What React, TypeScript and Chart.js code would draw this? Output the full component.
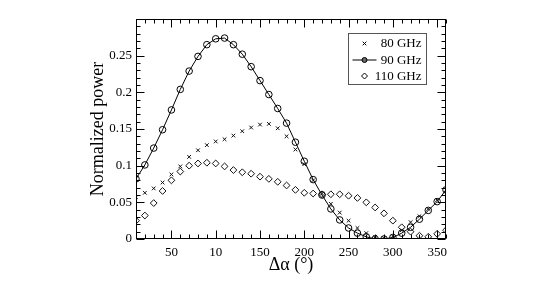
import React, { useEffect, useRef } from 'react';
import { Chart, registerables } from 'chart.js';

Chart.register(...registerables);

const angles = [10, 20, 30, 40, 50, 60, 70, 80, 90, 100, 110, 120, 130, 140, 150, 160, 170, 180,
  190, 200, 210, 220, 230, 240, 250, 260, 270, 280, 290, 300, 310, 320, 330, 340, 350, 360];

const power80 = [0.057, 0.063, 0.069, 0.077, 0.088, 0.099, 0.112, 0.121, 0.128, 0.133, 0.136, 0.141,
  0.147, 0.152, 0.156, 0.157, 0.151, 0.140, 0.122, 0.102, 0.080, 0.062, 0.048, 0.036, 0.025, 0.015,
  0.008, 0.003, 0.001, 0.004, 0.012, 0.023, 0.031, 0.041, 0.053, 0.067];

const power90 = [0.082, 0.101, 0.124, 0.149, 0.176, 0.204, 0.229, 0.249, 0.265, 0.273, 0.274, 0.265,
  0.252, 0.235, 0.216, 0.197, 0.178, 0.158, 0.132, 0.106, 0.081, 0.060, 0.041, 0.026, 0.015, 0.008,
  0.003, 0.000, 0.000, 0.002, 0.008, 0.016, 0.027, 0.039, 0.051, 0.067];

const power110 = [0.025, 0.032, 0.049, 0.0655, 0.080, 0.092, 0.100, 0.103, 0.104, 0.103, 0.099, 0.094,
  0.091, 0.089, 0.085, 0.082, 0.078, 0.073, 0.067, 0.063, 0.062, 0.061, 0.061, 0.061, 0.059, 0.056,
  0.050, 0.043, 0.035, 0.025, 0.016, 0.010, 0.0045, 0.003, 0.007, 0.012];

const seriesLabels = ['80 GHz', '90 GHz', '110 GHz'];

const xTickValues = [50, 100, 150, 200, 250, 300, 350];
const xTickLabels = ['50', '10', '150', '200', '250', '300', '350'];
const yTickValues = [0, 0.05, 0.1, 0.15, 0.2, 0.25];
const yTickLabels = ['0', '0.05', '0.1', '0.15', '0.2', '0.25'];

const X_MIN = 10;
const X_MAX = 360;
const Y_MIN = 0;
const Y_MAX = 0.3;
const X_MINOR = 10;
const X_MAJOR = 50;
const Y_MINOR_COUNT = 30; // 0.01 steps
const Y_MAJOR_EVERY = 5;

const xTitle = 'Δα (°)';
const yTitle = 'Normalized power';

const FONT = "'Liberation Serif', 'Times New Roman', serif";

const framePlugin = {
  id: 'graceFrame',
  afterDraw(chart: any) {
    const { ctx, chartArea, scales } = chart;
    const xs = scales.x;
    const ys = scales.y;
    const L = Math.round(chartArea.left) + 0.5;
    const R = Math.round(chartArea.right) - 0.5;
    const T = Math.round(chartArea.top) + 0.5;
    const B = Math.round(chartArea.bottom) - 0.5;
    ctx.save();
    ctx.strokeStyle = '#000';
    ctx.lineWidth = 1;
    ctx.strokeRect(L, T, R - L, B - T);
    ctx.beginPath();
    for (let v = X_MIN; v <= X_MAX + 1e-9; v += X_MINOR) {
      const px = Math.round(xs.getPixelForValue(v)) + 0.5;
      const major = Math.abs(v % X_MAJOR) < 1e-6;
      const len = major ? 8 : 4;
      ctx.moveTo(px, B);
      ctx.lineTo(px, B - len);
      ctx.moveTo(px, T);
      ctx.lineTo(px, T + len);
    }
    for (let i = 0; i <= Y_MINOR_COUNT; i++) {
      const v = Y_MIN + (Y_MAX - Y_MIN) * i / Y_MINOR_COUNT;
      const py = Math.round(ys.getPixelForValue(v)) + 0.5;
      const major = i % Y_MAJOR_EVERY === 0;
      const len = major ? 8 : 4;
      ctx.moveTo(L, py);
      ctx.lineTo(L + len, py);
      ctx.moveTo(R, py);
      ctx.lineTo(R - len, py);
    }
    ctx.stroke();

    // legend box
    const bx0 = Math.round(chartArea.right) - 98 + 0.5;
    const bx1 = Math.round(chartArea.right) - 20 + 0.5;
    const by0 = Math.round(chartArea.top) + 14 + 0.5;
    const by1 = Math.round(chartArea.top) + 65 + 0.5;
    ctx.fillStyle = '#fff';
    ctx.fillRect(bx0, by0, bx1 - bx0, by1 - by0);
    ctx.strokeStyle = '#555';
    ctx.strokeRect(bx0, by0, bx1 - bx0, by1 - by0);

    const symX = bx0 + 16;
    const textRight = bx1 - 5;
    const rows = [by0 + 10, by0 + 26.5, by0 + 42.5];
    ctx.font = `13px ${FONT}`;
    ctx.fillStyle = '#000';
    ctx.textAlign = 'right';
    ctx.textBaseline = 'middle';
    rows.forEach((ry, i) => {
      ctx.fillText(seriesLabels[i], textRight, ry + 0.5);
    });
    ctx.strokeStyle = '#000';
    ctx.lineWidth = 1;
    // cross
    ctx.beginPath();
    const c = 1.8;
    ctx.moveTo(symX - c, rows[0] - c);
    ctx.lineTo(symX + c, rows[0] + c);
    ctx.moveTo(symX + c, rows[0] - c);
    ctx.lineTo(symX - c, rows[0] + c);
    ctx.stroke();
    // line + circle
    ctx.beginPath();
    ctx.moveTo(symX - 12, rows[1]);
    ctx.lineTo(symX + 12, rows[1]);
    ctx.stroke();
    ctx.beginPath();
    ctx.arc(symX, rows[1], 2.5, 0, Math.PI * 2);
    ctx.fillStyle = '#666';
    ctx.fill();
    ctx.stroke();
    // diamond
    ctx.beginPath();
    const d = 3;
    ctx.moveTo(symX, rows[2] - d);
    ctx.lineTo(symX + d, rows[2]);
    ctx.lineTo(symX, rows[2] + d);
    ctx.lineTo(symX - d, rows[2]);
    ctx.closePath();
    ctx.stroke();
    ctx.restore();
  },
};

export default function App() {
  const canvasRef = useRef<HTMLCanvasElement | null>(null);

  useEffect(() => {
    document.body.style.margin = '0';
    const canvas = canvasRef.current;
    if (!canvas) return;
    const toPts = (ys: number[]) => angles.map((a, i) => ({ x: a, y: ys[i] }));
    const chart = new Chart(canvas, {
      type: 'scatter',
      data: {
        datasets: [
          {
            label: seriesLabels[0],
            data: toPts(power80),
            showLine: false,
            pointStyle: 'crossRot',
            pointRadius: 2.6,
            pointBorderWidth: 1,
            borderColor: '#111',
            backgroundColor: '#111',
          },
          {
            label: seriesLabels[1],
            data: toPts(power90),
            showLine: true,
            borderColor: '#000',
            borderWidth: 1,
            tension: 0,
            pointStyle: 'circle',
            pointRadius: 3.3,
            pointBorderWidth: 1,
            pointBorderColor: '#000',
            pointBackgroundColor: 'rgba(0,0,0,0)',
            backgroundColor: 'rgba(0,0,0,0)',
          },
          {
            label: seriesLabels[2],
            data: toPts(power110),
            showLine: false,
            pointStyle: 'rectRot',
            pointRadius: 3.4,
            pointBorderWidth: 1,
            borderColor: '#111',
            pointBackgroundColor: 'rgba(0,0,0,0)',
            backgroundColor: 'rgba(0,0,0,0)',
          },
        ],
      },
      options: {
        responsive: false,
        animation: false,
        devicePixelRatio: 1,
        layout: { padding: { left: 87, right: 99, top: 19, bottom: 0 } },
        plugins: {
          legend: { display: false },
          tooltip: { enabled: false },
        },
        scales: {
          x: {
            type: 'linear',
            min: X_MIN,
            max: X_MAX,
            grid: { display: false, drawTicks: false },
            border: { display: false },
            afterBuildTicks: (s: any) => {
              s.ticks = xTickValues.map((v) => ({ value: v }));
            },
            afterFit: (s: any) => {
              s.height = 43;
            },
            ticks: {
              autoSkip: false,
              maxRotation: 0,
              padding: 6,
              color: '#000',
              font: { family: FONT, size: 13 },
              callback: (_v: any, i: number) => xTickLabels[i],
            },
            title: {
              display: true,
              text: xTitle,
              color: '#000',
              font: { family: FONT, size: 18 },
              padding: { top: 0, bottom: 6 },
            },
          },
          y: {
            type: 'linear',
            min: Y_MIN,
            max: Y_MAX,
            grid: { display: false, drawTicks: false },
            border: { display: false },
            afterBuildTicks: (s: any) => {
              s.ticks = yTickValues.map((v) => ({ value: v }));
            },
            afterFit: (s: any) => {
              s.width = 49;
            },
            ticks: {
              autoSkip: false,
              padding: 4,
              color: '#000',
              font: { family: FONT, size: 13 },
              callback: (_v: any, i: number) => yTickLabels[i],
            },
            title: {
              display: true,
              text: yTitle,
              color: '#000',
              font: { family: FONT, size: 18 },
              padding: { top: 0, bottom: 0 },
            },
          },
        },
      },
      plugins: [framePlugin],
    });
    return () => chart.destroy();
  }, []);

  return (
    <canvas ref={canvasRef} width={545} height={282} style={{ display: 'block' }} />
  );
}
